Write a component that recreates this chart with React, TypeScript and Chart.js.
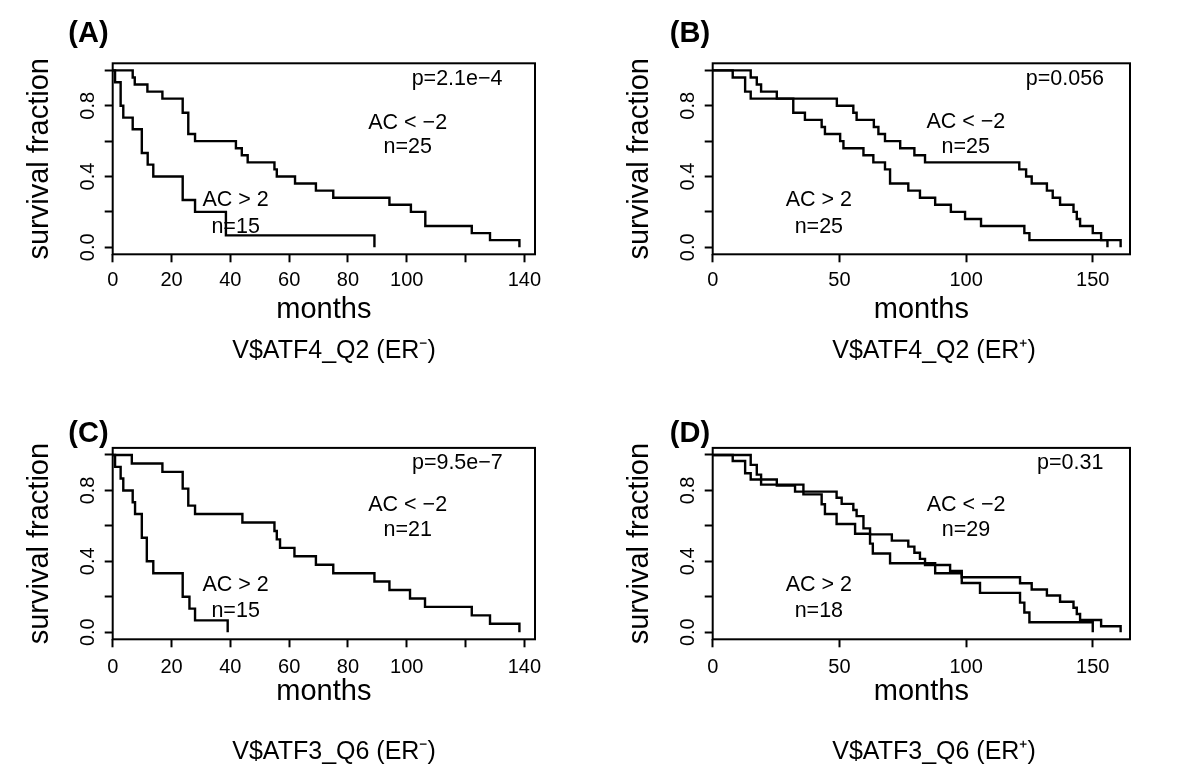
import React, { useEffect, useRef } from 'react';
import { Chart, registerables } from 'chart.js';

Chart.register(...registerables);

const FONT_FAMILY = '"Liberation Sans", Arial, Helvetica, sans-serif';

// ---------- axis ticks ----------
const yTickValues = [0, 0.2, 0.4, 0.6, 0.8, 1.0];
const yTickLabels = ['0.0', '', '0.4', '', '0.8', ''];
const xTickValuesNeg = [0, 20, 40, 60, 80, 100, 120, 140];
const xTickLabelsNeg = ['0', '20', '40', '60', '80', '100', '', '140'];
const xTickValuesPos = [0, 50, 100, 150];
const xTickLabelsPos = ['0', '50', '100', '150'];

// ---------- (A) V$ATF4_Q2 (ER-) ----------
const aLowMonths = [0, 6.8, 7.5, 11.8, 16.9, 23.8, 25.7, 28, 41.9, 43.9, 45.9, 55, 55.8, 62, 69.1, 75, 94.1, 101.4, 106.3, 122.1, 128.3, 138.3];
const aLowSurv = [1, 0.96, 0.92, 0.88, 0.84, 0.76, 0.64, 0.6, 0.56, 0.52, 0.48, 0.44, 0.4, 0.36, 0.32, 0.28, 0.24, 0.2, 0.12, 0.08, 0.04, 0];
const aHighMonths = [0, 0.8, 2.7, 3.6, 6.8, 9.9, 11.9, 13.8, 23.8, 28, 38.5, 89];
const aHighSurv = [1, 0.933, 0.8, 0.733, 0.667, 0.533, 0.467, 0.4, 0.267, 0.2, 0.067, 0];

// ---------- (B) V$ATF4_Q2 (ER+) ----------
const bLowMonths = [0, 15, 17.4, 19.1, 25.3, 49, 55.5, 56.8, 63.6, 65.4, 68, 74, 79.6, 83.8, 121, 123.7, 125.9, 131.9, 134.2, 137.1, 142.4, 143.7, 145, 150, 153.3, 161];
const bLowSurv = [1, 0.96, 0.92, 0.88, 0.84, 0.8, 0.76, 0.72, 0.68, 0.64, 0.6, 0.56, 0.52, 0.48, 0.44, 0.4, 0.36, 0.32, 0.28, 0.24, 0.2, 0.16, 0.12, 0.08, 0.04, 0];
const bHighMonths = [0, 7.9, 12.8, 15, 31.8, 36.4, 43, 44.3, 50.3, 51.6, 59.5, 63.4, 68, 70, 77.2, 81.8, 87.8, 94, 99.6, 105.9, 123, 125, 155.8];
const bHighSurv = [1, 0.96, 0.88, 0.84, 0.76, 0.72, 0.68, 0.64, 0.6, 0.56, 0.52, 0.48, 0.44, 0.36, 0.32, 0.28, 0.24, 0.2, 0.16, 0.12, 0.08, 0.04, 0];

// ---------- (C) V$ATF3_Q6 (ER-) ----------
const cLowMonths = [0, 6.5, 16.9, 23.8, 25.7, 28, 44.1, 55, 55.8, 56.9, 61.8, 69.1, 75, 89, 94.1, 101.1, 106.2, 122.1, 128.3, 138.3];
const cLowSurv = [1, 0.952, 0.905, 0.81, 0.714, 0.667, 0.619, 0.571, 0.524, 0.476, 0.429, 0.381, 0.333, 0.286, 0.238, 0.19, 0.143, 0.095, 0.048, 0];
const cHighMonths = [0, 0.8, 2.7, 3.6, 6.8, 7.6, 9.9, 11.6, 13.8, 23.8, 26.1, 28, 39.1];
const cHighSurv = [1, 0.933, 0.867, 0.8, 0.733, 0.667, 0.533, 0.4, 0.333, 0.2, 0.133, 0.067, 0];

// ---------- (D) V$ATF3_Q6 (ER+) ----------
const dLowMonths = [0, 7.9, 12.8, 15, 25.3, 32.5, 48.9, 50.9, 55.5, 56.8, 59.5, 62.1, 70.7, 77.2, 79.6, 81.8, 83.8, 93.7, 98.3, 121.3, 125.9, 131.9, 137.1, 142.4, 143.7, 145, 153.3, 161];
const dLowSurv = [1, 0.966, 0.897, 0.862, 0.828, 0.793, 0.759, 0.724, 0.69, 0.655, 0.586, 0.552, 0.517, 0.483, 0.448, 0.414, 0.379, 0.345, 0.31, 0.276, 0.241, 0.207, 0.172, 0.138, 0.103, 0.069, 0.034, 0];
const dHighMonths = [0, 15, 17.4, 19.1, 35.8, 43, 44.3, 48.9, 56.2, 62.1, 63.2, 70, 87.8, 98.3, 105.5, 121.3, 123, 125, 150];
const dHighSurv = [1, 0.944, 0.889, 0.833, 0.778, 0.722, 0.667, 0.611, 0.556, 0.5, 0.444, 0.389, 0.333, 0.278, 0.222, 0.167, 0.111, 0.056, 0];

// ---------- text ----------
const panelLetters = ['(A)', '(B)', '(C)', '(D)'];
const panelSubtitles = ['V$ATF4_Q2 (ER\u207B)', 'V$ATF4_Q2 (ER\u207A)', 'V$ATF3_Q6 (ER\u207B)', 'V$ATF3_Q6 (ER\u207A)'];
const pValues = ['p=2.1e\u22124', 'p=0.056', 'p=9.5e\u22127', 'p=0.31'];
const lowGroupNames = ['AC < \u22122', 'AC < \u22122', 'AC < \u22122', 'AC < \u22122'];
const lowGroupN = ['n=25', 'n=25', 'n=21', 'n=29'];
const highGroupNames = ['AC > 2', 'AC > 2', 'AC > 2', 'AC > 2'];
const highGroupN = ['n=15', 'n=25', 'n=15', 'n=18'];

// ---------- layout (positions, sizes) ----------
const rowLayout = [
  { top: 0, boxTop: 63.3, boxBottom: 254.3, tickLabelY: 280.8, monthsY: 310, subY: 351, letterY: 33.5 },
  { top: 384, boxTop: 63.9, boxBottom: 255.3, tickLabelY: 283, monthsY: 308, subY: 368, letterY: 50 },
];
const colLayout = [
  { left: 0, padRight: 65, letterX: 88.5, xMax: 143.6 },
  { left: 600, padRight: 70, letterX: 90, xMax: 164.7 },
];
// annotation anchors in data units: [pX, pY, lowX, lowY, lowNY, highX, highY, highNY]
const notePos = [
  [117.1, 0.949, 100.3, 0.704, 0.565, 41.8, 0.267, 0.116],
  [139, 0.949, 99.9, 0.706, 0.565, 41.9, 0.267, 0.112],
  [117.2, 0.955, 100.3, 0.715, 0.574, 41.8, 0.268, 0.118],
  [141.1, 0.955, 100, 0.715, 0.574, 41.9, 0.268, 0.118],
];

const CANVAS_W = 600;
const CANVAS_H = 384;
const TICK_LEN = 8;
const TICK_FONT = 20;
const LABEL_FONT = 29;
const NOTE_FONT = 21.5;
const SUB_FONT = 25;
const LETTER_FONT = 29;

const series = [
  { low: [aLowMonths, aLowSurv], high: [aHighMonths, aHighSurv], xt: xTickValuesNeg, xl: xTickLabelsNeg },
  { low: [bLowMonths, bLowSurv], high: [bHighMonths, bHighSurv], xt: xTickValuesPos, xl: xTickLabelsPos },
  { low: [cLowMonths, cLowSurv], high: [cHighMonths, cHighSurv], xt: xTickValuesNeg, xl: xTickLabelsNeg },
  { low: [dLowMonths, dLowSurv], high: [dHighMonths, dHighSurv], xt: xTickValuesPos, xl: xTickLabelsPos },
];

function toPoints(months: number[], surv: number[]) {
  return months.map((m, i) => ({ x: m, y: surv[i] }));
}

function buildConfig(idx: number): any {
  const row = rowLayout[Math.floor(idx / 2)];
  const col = colLayout[idx % 2];
  const s = series[idx];
  const np = notePos[idx];
  const notes = [
    { text: pValues[idx], x: np[0], y: np[1] },
    { text: lowGroupNames[idx], x: np[2], y: np[3] },
    { text: lowGroupN[idx], x: np[2], y: np[4] },
    { text: highGroupNames[idx], x: np[5], y: np[6] },
    { text: highGroupN[idx], x: np[5], y: np[7] },
  ];
  const xScaleHeight = CANVAS_H - row.boxBottom;
  const monthsPadBottom = CANVAS_H - LABEL_FONT * 0.6 - row.monthsY;
  const xTickPad = row.tickLabelY - row.boxBottom - TICK_LEN - TICK_FONT * 0.6;

  const overlay = {
    id: 'overlay' + idx,
    afterDatasetsDraw(chart: any) {
      const { ctx, chartArea: a, scales } = chart;
      ctx.save();
      ctx.strokeStyle = '#000';
      ctx.lineWidth = 2;
      ctx.strokeRect(a.left, a.top, a.right - a.left, a.bottom - a.top);
      ctx.fillStyle = '#000';
      ctx.textAlign = 'center';
      ctx.textBaseline = 'middle';
      ctx.font = `${NOTE_FONT}px ${FONT_FAMILY}`;
      for (const n of notes) {
        ctx.fillText(n.text, scales.x.getPixelForValue(n.x), scales.y.getPixelForValue(n.y));
      }
      ctx.font = `bold ${LETTER_FONT}px ${FONT_FAMILY}`;
      ctx.fillText(panelLetters[idx], col.letterX, row.letterY);
      ctx.font = `${SUB_FONT}px ${FONT_FAMILY}`;
      ctx.fillText(panelSubtitles[idx], 334, row.subY);
      ctx.restore();
    },
  };

  const lineStyle = {
    stepped: 'before',
    borderColor: '#000',
    borderWidth: 2.4,
    pointRadius: 0,
    fill: false,
    clip: false,
    borderCapStyle: 'butt',
    borderJoinStyle: 'miter',
  };

  return {
    type: 'line',
    data: {
      datasets: [
        { ...lineStyle, label: lowGroupNames[idx], data: toPoints(s.low[0], s.low[1]) },
        { ...lineStyle, label: highGroupNames[idx], data: toPoints(s.high[0], s.high[1]) },
      ],
    },
    options: {
      animation: false,
      responsive: false,
      devicePixelRatio: 1,
      events: [],
      layout: { padding: { left: 0, right: col.padRight, top: row.boxTop, bottom: 0 } },
      plugins: {
        legend: { display: false },
        tooltip: { enabled: false },
        title: { display: false },
      },
      scales: {
        x: {
          type: 'linear',
          min: 0,
          max: col.xMax,
          afterBuildTicks: (sc: any) => {
            sc.ticks = s.xt.map((v) => ({ value: v }));
          },
          afterFit: (sc: any) => {
            sc.height = xScaleHeight;
          },
          ticks: {
            autoSkip: false,
            maxRotation: 0,
            minRotation: 0,
            padding: xTickPad,
            color: '#000',
            font: { family: FONT_FAMILY, size: TICK_FONT },
            callback: (v: number) => s.xl[s.xt.indexOf(v)] ?? '',
          },
          grid: {
            display: true,
            drawOnChartArea: false,
            drawTicks: true,
            tickLength: TICK_LEN,
            tickWidth: 2,
            tickColor: '#000',
          },
          border: { display: false },
          title: {
            display: true,
            text: 'months',
            color: '#000',
            font: { family: FONT_FAMILY, size: LABEL_FONT },
            padding: { top: 0, bottom: monthsPadBottom },
          },
        },
        y: {
          type: 'linear',
          min: -0.04,
          max: 1.04,
          afterBuildTicks: (sc: any) => {
            sc.ticks = yTickValues.map((v) => ({ value: v }));
          },
          afterFit: (sc: any) => {
            sc.width = 112.7;
          },
          ticks: {
            autoSkip: false,
            minRotation: 90,
            maxRotation: 90,
            crossAlign: 'center',
            padding: 2,
            color: '#000',
            font: { family: FONT_FAMILY, size: TICK_FONT },
            callback: (v: number) => yTickLabels[yTickValues.indexOf(v)] ?? '',
          },
          grid: {
            display: true,
            drawOnChartArea: false,
            drawTicks: true,
            tickLength: TICK_LEN,
            tickWidth: 2,
            tickColor: '#000',
          },
          border: { display: false },
          title: {
            display: true,
            text: 'survival fraction',
            color: '#000',
            font: { family: FONT_FAMILY, size: LABEL_FONT },
            padding: { top: 40 - LABEL_FONT * 0.6, bottom: 0 },
          },
        },
      },
    },
    plugins: [overlay],
  };
}

function Panel({ idx }: { idx: number }) {
  const ref = useRef<HTMLCanvasElement>(null);
  useEffect(() => {
    const chart = new Chart(ref.current as HTMLCanvasElement, buildConfig(idx));
    return () => chart.destroy();
  }, [idx]);
  const row = rowLayout[Math.floor(idx / 2)];
  const col = colLayout[idx % 2];
  return (
    <canvas
      ref={ref}
      width={CANVAS_W}
      height={CANVAS_H}
      style={{ position: 'absolute', left: col.left, top: row.top, width: CANVAS_W, height: CANVAS_H }}
    />
  );
}

export default function App() {
  return (
    <div style={{ position: 'fixed', left: 0, top: 0, width: 1200, height: 768, background: '#fff', overflow: 'hidden' }}>
      {[0, 1, 2, 3].map((i) => (
        <Panel key={i} idx={i} />
      ))}
    </div>
  );
}
